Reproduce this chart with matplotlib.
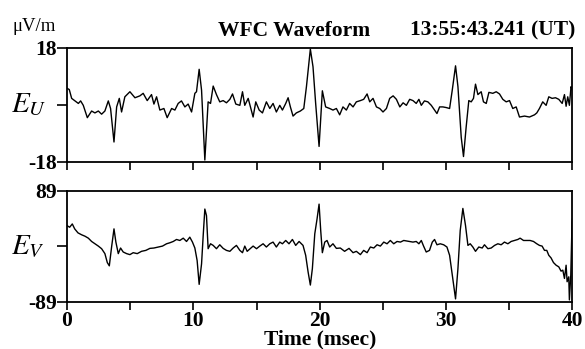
import matplotlib
matplotlib.use("Agg")
import matplotlib.pyplot as plt

# E_U trace (top panel), time in msec, field in uV/m
t_u = [0.0, 0.18, 0.37, 0.63, 0.9, 1.08, 1.29, 1.61, 1.95, 2.21, 2.48, 2.74, 3.0, 3.27, 3.45,
       3.72, 3.93, 4.14, 4.32, 4.58, 4.98, 5.38, 5.77, 6.03, 6.35, 6.69, 6.88, 7.09, 7.35, 7.67,
       7.93, 8.28, 8.54, 8.8, 9.06, 9.33, 9.59, 9.86, 10.12, 10.25, 10.46, 10.65, 10.91, 11.17,
       11.36, 11.57, 11.83, 12.09, 12.36, 12.62, 12.89, 13.1, 13.36, 13.68, 13.89, 14.07, 14.34,
       14.52, 14.73, 14.94, 15.21, 15.47, 15.78, 16.05, 16.31, 16.57, 16.84, 17.05, 17.31, 17.5,
       17.68, 17.89, 18.15, 18.47, 18.74, 18.95, 19.26, 19.47, 19.68, 19.95, 20.21, 20.47, 20.79,
       21.05, 21.32, 21.58, 21.84, 22.11, 22.37, 22.64, 22.9, 23.22, 23.48, 23.75, 23.96, 24.22,
       24.49, 24.75, 25.01, 25.28, 25.54, 25.81, 26.07, 26.34, 26.6, 26.86, 27.12, 27.38, 27.64,
       27.85, 28.04, 28.29, 28.56, 28.83, 29.09, 29.28, 29.49, 29.75, 30.01, 30.28, 30.49, 30.75,
       30.94, 31.2, 31.38, 31.59, 31.8, 31.99, 32.17, 32.33, 32.52, 32.78, 32.96, 33.18, 33.39,
       33.7, 33.97, 34.23, 34.49, 34.76, 35.02, 35.28, 35.55, 35.81, 36.21, 36.6, 37.0, 37.18,
       37.39, 37.65, 37.92, 38.13, 38.39, 38.66, 38.92, 39.19, 39.37, 39.5, 39.63, 39.76, 39.89,
       39.97]
e_u = [5.2, 4.8, 2.0, 1.2, 0.4, 1.2, -0.2, -4.1, -2.0, -2.6, -2.0, -3.0, -2.0, 1.2, -1.2,
       -11.8, -0.7, 2.0, -2.3, 2.5, 4.1, 2.2, 2.8, 3.6, 1.3, 3.2, 0.2, 2.5, -1.7, -1.2,
       -4.1, -1.2, -1.7, 0.4, 1.2, -0.7, 0.2, -2.3, 3.6, 4.1, 11.2, 4.6, -17.5, 0.9,
       0.4, 5.9, 3.2, 0.9, 1.3, 0.6, 1.7, 3.4, 0.2, -0.2, 4.1, -0.2, 2.0,
       -0.7, -3.9, 0.9, -1.7, -2.6, 0.9, -1.2, 0.4, -2.3, -0.2, -1.7, 0.4, 2.2,
       -0.7, -3.6, -2.6, -2.0, -1.2, 5.7, 17.6, 12.0, 0.4, -13.2, 4.4, -0.7, -1.2,
       -1.7, -1.2, -3.2, -0.7, -1.7, 0.4, -0.7, 0.9, 1.3, 1.7, 3.4, 0.9, 2.0,
       -0.7, -1.2, -2.3, -1.2, 2.0, 2.8, 1.7, -0.7, 0.6, -0.2, 1.7, 1.3, 0.4,
       1.7, -0.2, 1.2, 0.9, -0.2, -1.7, -2.8, -0.7, -0.7, -0.9, -1.2, 4.6, 12.3,
       5.7, -10.3, -16.4, -7.1, 1.3, 0.9, 2.0, 6.5, 3.2, 4.1, 0.9, 0.4, 3.9,
       3.6, 4.1, 3.4, 1.7, 0.9, 1.3, -1.2, -0.7, -3.9, -3.6, -3.9, -3.2, -2.6,
       -1.2, 0.9, -0.2, 2.5, 2.0, 2.2, 1.7, 0.4, 3.2, -0.5, 2.5, -0.2, 5.7,
       4.8]

# E_V trace (bottom panel)
t_v = [0.0, 0.21, 0.42, 0.61, 0.87, 1.16, 1.42, 1.69, 1.95, 2.21, 2.48, 2.74, 3.0, 3.19, 3.35,
       3.53, 3.72, 3.87, 4.06, 4.24, 4.45, 4.72, 4.98, 5.24, 5.56, 5.9, 6.24, 6.56, 6.88, 7.22,
       7.56, 7.88, 8.14, 8.41, 8.67, 8.93, 9.2, 9.46, 9.72, 9.93, 10.12, 10.3, 10.46, 10.65,
       10.78, 10.91, 11.04, 11.17, 11.36, 11.57, 11.83, 12.09, 12.36, 12.62, 12.89, 13.15, 13.41,
       13.68, 13.89, 14.07, 14.26, 14.52, 14.73, 15.0, 15.26, 15.52, 15.78, 16.05, 16.31, 16.57,
       16.84, 17.05, 17.31, 17.57, 17.84, 18.1, 18.37, 18.68, 18.89, 19.08, 19.26, 19.42, 19.61,
       19.79, 19.95, 20.08, 20.21, 20.4, 20.58, 20.79, 21.05, 21.32, 21.63, 21.97, 22.32, 22.64,
       22.9, 23.22, 23.48, 23.75, 24.01, 24.28, 24.54, 24.8, 25.07, 25.33, 25.59, 25.86, 26.12,
       26.39, 26.65, 27.12, 27.38, 27.64, 27.85, 28.04, 28.22, 28.43, 28.69, 28.91, 29.09, 29.28,
       29.54, 29.81, 30.07, 30.28, 30.49, 30.75, 30.94, 31.12, 31.33, 31.54, 31.73, 31.91, 32.12,
       32.33, 32.59, 32.86, 33.04, 33.31, 33.57, 33.84, 34.1, 34.36, 34.62, 34.89, 35.15, 35.42,
       35.68, 35.86, 36.13, 36.39, 36.65, 36.92, 37.18, 37.39, 37.6, 37.79, 37.97, 38.13, 38.31,
       38.5, 38.71, 38.92, 39.1, 39.24, 39.37, 39.5, 39.58, 39.71, 39.76, 39.87, 39.97, 40.0]
e_v = [33.4, 30.7, 36.0, 28.1, 21.7, 18.6, 16.4, 13.2, 7.9, 4.2, 0.5, -3.7, -11.6, -25.9, -31.2,
       -1.0, 28.1, 6.9, -11.6, -2.6, -9.0, -11.6, -13.2, -10.1, -11.6, -7.9, -6.4, -3.2, -2.6, -1.0,
       0.5, 4.2, 5.8, 7.9, 11.1, 9.5, 13.2, 7.9, 14.8, 6.9, -2.6, -22.7, -60.9, -28.0,
       17.5, 59.9, 49.3, -3.7, 4.2, 1.6, -3.7, 2.6, -3.2, -6.4, -7.9, -2.6, 1.6,
       -6.4, -10.1, 0.5, -7.9, -3.2, 0.5, -3.7, 0.5, 4.2, -1.0, 4.2, 6.9, -1.0,
       6.9, 4.2, 9.5, 4.2, 11.1, 1.6, 7.9, 1.6, -14.3, -40.8, -62.0, -35.5, 20.1,
       44.0, 67.8, 25.4, -10.1, 6.9, 9.5, -1.0, 4.2, -3.2, -2.6, -7.9, -3.2, -10.1,
       -7.9, -13.2, -6.4, -10.1, -1.0, -2.6, 2.6, 0.5, 6.9, 4.2, 9.5, 4.2, 7.9,
       6.9, 9.5, 7.9, 6.9, 7.9, 4.2, 9.5, 0.5, -9.0, -6.4, 6.9, 11.1, 2.6,
       4.2, 2.6, -1.0, -14.3, -46.0, -84.2, -35.5, 25.4, 60.9, 33.4, 1.6, 4.2, -1.0,
       -7.9, -1.0, -2.6, 2.6, -3.7, -2.6, 1.6, 4.2, 2.6, 6.9, 4.2, 7.9, 9.5,
       11.1, 13.2, 9.5, 9.5, 9.5, 7.9, 4.2, 1.6, 0.5, -6.4, -6.4, -14.3, -18.5,
       -25.9, -30.2, -32.8, -39.7, -38.1, -51.4, -30.2, -56.7, -48.8, -85.8, -46.0, 38.7, 44.0]

x_ticks = [0, 5, 10, 15, 20, 25, 30, 35, 40]
x_ticklabels = ["0", "", "10", "", "20", "", "30", "", "40"]

plt.rcParams["font.family"] = ["Liberation Serif", "DejaVu Serif"]
plt.rcParams["mathtext.fontset"] = "stix"

fig = plt.figure(figsize=(5.85, 3.49), dpi=100)
ax_u = fig.add_axes([0.1145, 0.537, 0.864, 0.326])
ax_v = fig.add_axes([0.1145, 0.135, 0.864, 0.318])

panels = [
    (ax_u, t_u, e_u, 18, ["18", "", "-18"], r"$E_U$"),
    (ax_v, t_v, e_v, 89, ["89", "", "-89"], r"$E_V$"),
]
for ax, t, e, lim, ylabels, name in panels:
    ax.plot(t, e, color="black", lw=1.0)
    ax.set_xlim(0, 40)
    ax.set_ylim(-lim, lim)
    ax.set_yticks([lim, 0, -lim])
    ax.set_yticklabels(ylabels, fontsize=15.5, fontweight="bold")
    ax.set_xticks(x_ticks)
    ax.tick_params(axis="y", direction="out", length=7, width=1.2, pad=0.5)
    ax.tick_params(axis="x", direction="out", length=6, width=1.2, pad=0.5)
    for s in ax.spines.values():
        s.set_linewidth(1.3)
    ax.text(-0.11, 0.5, name, transform=ax.transAxes, fontsize=21,
            ha="left", va="center")

ax_u.set_xticklabels([])
ax_v.set_xticklabels(x_ticklabels, fontsize=15.5, fontweight="bold")
# axis title placed as figure text so it sits just under the tick numbers
fig.text(0.548, 0.014, "Time (msec)", fontsize=15.5, fontweight="bold",
         ha="center", va="baseline")

fig.text(0.022, 0.925, "\u03bcV/m", fontsize=13.5, ha="left", va="center")
fig.text(0.372, 0.912, "WFC Waveform", fontsize=15.5, fontweight="bold",
         ha="left", va="center")
fig.text(0.983, 0.912, "13:55:43.241 (UT)", fontsize=15.5, fontweight="bold",
         ha="right", va="center")

fig.savefig("out.png", dpi=100)
